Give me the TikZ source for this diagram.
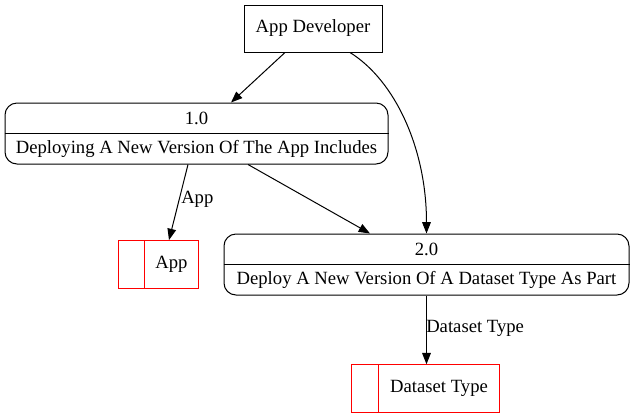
\documentclass[tikz,border=0pt]{standalone}
\usepackage{fontspec}
\setmainfont{Liberation Serif}
\usetikzlibrary{arrows.meta,calc}
\begin{document}
\begin{tikzpicture}[x=0.75pt,y=-0.75pt,
  every node/.style={font=\fontsize{14pt}{16pt}\selectfont, inner sep=0pt},
  entity/.style={draw, line width=0.75pt, minimum width=103.5pt, minimum height=35.25pt},
  procbox/.style={draw, line width=0.75pt, rounded corners=9pt},
  storebox/.style={draw=red, line width=0.75pt, minimum height=35.6pt},
  arr/.style={-{Triangle[length=8.5pt,width=6.5pt]}, line width=0.75pt}
]
\useasboundingbox (0,0) rectangle (633,419);
% App Developer
\node[entity] (ad) at (313,28.5) {App Developer};
% Process 1.0
\node[procbox, minimum width=287.25pt, minimum height=45.75pt] (p1) at (196.5,133.5) {};
\draw[line width=0.75pt] (p1.west) -- (p1.east);
\node (p1n) at (196.5,118.5) {1.0};
\node (p1t) at (196.5,149) {Deploying A New Version Of The App Includes};
% Process 2.0
\node[procbox, minimum width=303.75pt, minimum height=45.75pt] (p2) at (426.5,264.5) {};
\draw[line width=0.75pt] (p2.west) -- (p2.east);
\node (p2n) at (426.5,249.5) {2.0};
\node (p2t) at (426.5,280) {Deploy A New Version Of A Dataset Type As Part};
% Store App
\node[storebox, minimum width=60pt] (app) at (158,264.3) {};
\draw[red, line width=0.75pt] (144.5,240.6) -- (144.5,288);
\node (appt) at (171.5,264.3) {App};
% Store Dataset Type
\node[storebox, minimum width=111pt] (ds) at (425.8,388.5) {};
\draw[red, line width=0.75pt] (378.5,364.7) -- (378.5,412.3);
\node (dst) at (439,388.5) {Dataset Type};
% Edges
\draw[arr] ($(ad.south)+(-28,0)$) -- ($(p1.north)+(34.5,0)$);
\draw[arr] ($(ad.south)+(37,0)$) .. controls +(45,28) and +(0,-85) .. (p2.north);
\draw[arr] ($(p1.south)+(-8.5,0)$) -- ($(app.north)+(11,0)$);
\node[anchor=west] (l1) at (181,199) {App};
\draw[arr] ($(p1.south)+(51.5,0)$) -- ($(p2.north)+(-56.5,0)$);
\draw[arr] (p2.south) -- (p2.south |- ds.north);
\node[anchor=west] (l2) at (426,328) {Dataset Type};
\end{tikzpicture}
\end{document}
